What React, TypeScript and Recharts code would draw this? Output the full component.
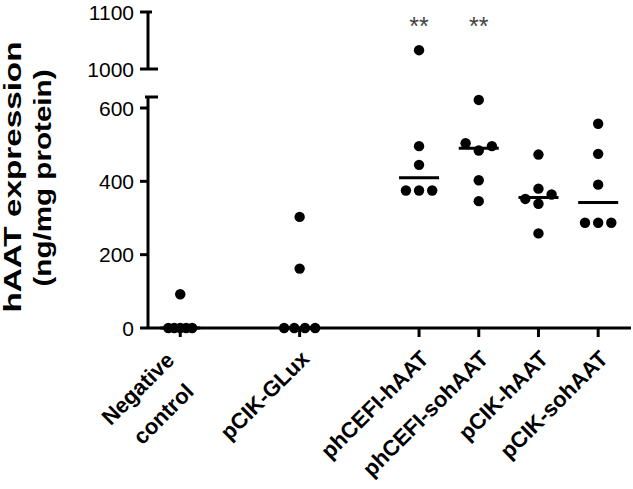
import React from 'react';
import { ScatterChart, Scatter, XAxis, YAxis } from 'recharts';

const categories = ['Negative\ncontrol', 'pCIK-GLux', 'phCEFI-hAAT', 'phCEFI-sohAAT', 'pCIK-hAAT', 'pCIK-sohAAT'];
const categoryPositions = [0, 2, 4, 5, 6, 7];

const negativeControlValues = [92, 0, 0, 0, 0, 0];
const negativeControlJitter = [0, -0.2, -0.1, 0, 0.1, 0.2];
const pcikGluxValues = [303, 162, 0, 0, 0, 0];
const pcikGluxJitter = [0, 0, -0.26, -0.09, 0.09, 0.26];
const phcefiHaatValues = [1033, 496, 445, 375, 375, 375];
const phcefiHaatJitter = [0, 0, 0, -0.22, 0, 0.22];
const phcefiSohaatValues = [622, 504, 484, 496, 403, 346];
const phcefiSohaatJitter = [0, -0.22, 0, 0.22, 0, 0];
const pcikHaatValues = [473, 380, 352, 364, 339, 258];
const pcikHaatJitter = [0, 0, -0.22, 0.22, 0, 0];
const pcikSohaatValues = [557, 475, 391, 287, 287, 287];
const pcikSohaatJitter = [0, 0, 0, -0.22, 0, 0.22];

const medians = [0, 0, 410, 490, 356, 342];
const significance = ['', '', '**', '**', '', ''];
const significanceLevel = 1086;

const lowerTicks = [0, 200, 400, 600];
const upperTicks = [1000, 1100];
const lowerDomain: [number, number] = [0, 630];
const upperDomain: [number, number] = [1000, 1100];
const xDomain: [number, number] = [-0.54, 7.55];

const FONT = '"Liberation Sans", Arial, Helvetica, sans-serif';

const groups = [
  { values: negativeControlValues, jitter: negativeControlJitter },
  { values: pcikGluxValues, jitter: pcikGluxJitter },
  { values: phcefiHaatValues, jitter: phcefiHaatJitter },
  { values: phcefiSohaatValues, jitter: phcefiSohaatJitter },
  { values: pcikHaatValues, jitter: pcikHaatJitter },
  { values: pcikSohaatValues, jitter: pcikSohaatJitter },
];

const allPoints = groups.flatMap((g, gi) =>
  g.values.map((v, i) => ({ x: categoryPositions[gi] + g.jitter[i], y: v }))
);
const lowerPoints = allPoints.filter((p) => p.y <= lowerDomain[1]);
const upperPoints = allPoints.filter((p) => p.y >= upperDomain[0]);
const medianPoints = medians.map((m, i) => ({ x: categoryPositions[i], y: m }));
const starPoints = significance
  .map((s, i) => ({ x: categoryPositions[i], y: significanceLevel, label: s }))
  .filter((p) => p.label);

const Dot = (props: any) => <circle cx={props.cx} cy={props.cy} r={5.2} fill="#000" />;
const MedianLine = (props: any) => (
  <line x1={props.cx - 20} x2={props.cx + 20} y1={props.cy} y2={props.cy} stroke="#000" strokeWidth={3} />
);
const Star = (props: any) => (
  <text x={props.cx} y={props.cy + 15} textAnchor="middle" fontSize={25} fontFamily={FONT} fill="#444">
    {props.payload.label}
  </text>
);

const LowerYTick = (props: any) => {
  const { x, y, payload } = props;
  const v = payload.value;
  if (v === lowerDomain[1]) {
    return <line x1={x - 3} x2={x + 10} y1={y} y2={y} stroke="#000" strokeWidth={3} />;
  }
  return (
    <g>
      <line x1={x - 8} x2={x} y1={y} y2={y} stroke="#000" strokeWidth={3} />
      <text x={x - 14} y={y} dy="0.36em" textAnchor="end" fontSize={21} fontFamily={FONT} fill="#000">
        {v}
      </text>
    </g>
  );
};

const UpperYTick = (props: any) => {
  const { x, y, payload } = props;
  const v = payload.value;
  const right = v === upperDomain[0] ? 10 : 4;
  return (
    <g>
      <line x1={x - 8} x2={x + right} y1={y} y2={y} stroke="#000" strokeWidth={3} />
      <text x={x - 14} y={y} dy="0.36em" textAnchor="end" fontSize={21} fontFamily={FONT} fill="#000">
        {v}
      </text>
    </g>
  );
};

const XTick = (props: any) => {
  const { x, y, payload } = props;
  const idx = categoryPositions.indexOf(payload.value);
  if (idx < 0) return <g />;
  const lines = categories[idx].split('\n');
  const multi = lines.length > 1;
  return (
    <g transform={`translate(${x},${y})`}>
      <line x1={0} x2={0} y1={0} y2={9} stroke="#000" strokeWidth={3} />
      <g transform="translate(11,32) rotate(-45)">
        {lines.map((l, i) => (
          <text
            key={i}
            x={multi ? -58 : 0}
            y={multi ? -10 + i * 36 : 0}
            textAnchor={multi ? 'middle' : 'end'}
            fontSize={22}
            fontWeight="bold"
            fontFamily={FONT}
            fill="#000"
          >
            {l}
          </text>
        ))}
      </g>
    </g>
  );
};

const YLabel = () => (
  <g>
    <text
      transform="translate(20.5,177) rotate(-90)"
      textAnchor="middle"
      fontSize={24}
      fontWeight="bold"
      fontFamily={FONT}
      fill="#000"
      textLength={271}
      lengthAdjust="spacingAndGlyphs"
    >
      hAAT expression
    </text>
    <text
      transform="translate(50.5,178) rotate(-90)"
      textAnchor="middle"
      fontSize={24}
      fontWeight="bold"
      fontFamily={FONT}
      fill="#000"
      textLength={217}
      lengthAdjust="spacingAndGlyphs"
    >
      (ng/mg protein)
    </text>
  </g>
);

export default function App() {
  return (
    <div style={{ position: 'absolute', left: 0, top: 0, width: 633, height: 489, background: '#fff' }}>
      <div style={{ position: 'absolute', left: 0, top: 0 }}>
        <ScatterChart width={633} height={489} margin={{ top: 97, right: 2, left: 0, bottom: 0 }}>
          <XAxis
            type="number"
            dataKey="x"
            domain={xDomain}
            ticks={categoryPositions}
            interval={0}
            height={161}
            tick={XTick}
            tickLine={false}
            tickSize={0}
            tickMargin={0}
            axisLine={{ stroke: '#000', strokeWidth: 3 }}
          />
          <YAxis
            type="number"
            dataKey="y"
            domain={lowerDomain}
            ticks={[...lowerTicks, lowerDomain[1]]}
            interval={0}
            width={148}
            tick={LowerYTick}
            tickLine={false}
            tickSize={0}
            tickMargin={0}
            axisLine={{ stroke: '#000', strokeWidth: 3 }}
            label={{ content: YLabel }}
          />
          <Scatter data={medianPoints} shape={MedianLine} isAnimationActive={false} />
          <Scatter data={lowerPoints} shape={Dot} isAnimationActive={false} />
        </ScatterChart>
      </div>
      <div style={{ position: 'absolute', left: 0, top: 0 }}>
        <ScatterChart width={633} height={489} margin={{ top: 12, right: 2, left: 0, bottom: 420 }}>
          <XAxis type="number" dataKey="x" domain={xDomain} hide />
          <YAxis
            type="number"
            dataKey="y"
            domain={upperDomain}
            ticks={upperTicks}
            interval={0}
            width={148}
            tick={UpperYTick}
            tickLine={false}
            tickSize={0}
            tickMargin={0}
            axisLine={{ stroke: '#000', strokeWidth: 3 }}
          />
          <Scatter data={upperPoints} shape={Dot} isAnimationActive={false} />
          <Scatter data={starPoints} shape={Star} isAnimationActive={false} />
        </ScatterChart>
      </div>
    </div>
  );
}
